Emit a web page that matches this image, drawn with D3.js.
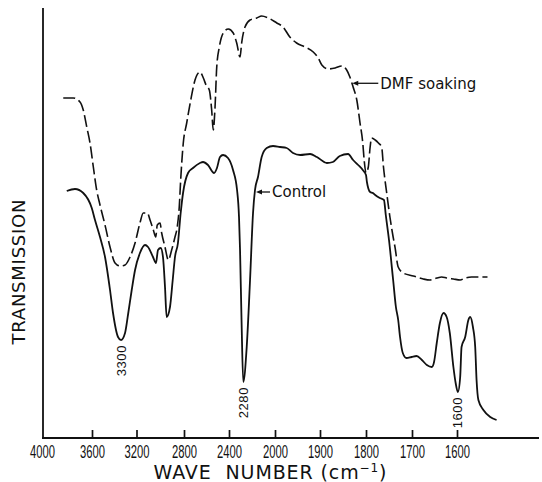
<!DOCTYPE html>
<html>
<head>
<meta charset="utf-8">
<script src="https://cdn.jsdelivr.net/npm/d3@7"></script>
<style>
  body { margin: 0; background: #fff; }
  svg text { fill: #111; }
</style>
</head>
<body>
<div id="chart"></div>
<script>
const width = 542, height = 482;
const ink = "#111";

// wave number ticks (scale is stretched below 2000 cm-1)
const waveTicks = [4000, 3600, 3200, 2800, 2400, 2000, 1900, 1800, 1700, 1600];

// control film
const controlWn = [3802, 3736, 3670, 3602, 3573, 3528, 3483, 3438, 3411, 3366, 3339, 3303, 3274, 3243, 3213,
  3171, 3128, 3103, 3061, 3036, 3019, 2996, 2977, 2960, 2946, 2918, 2895, 2876, 2851, 2828, 2808,
  2764, 2720, 2658, 2631, 2587, 2533, 2507, 2480, 2453, 2409, 2365, 2330, 2313, 2304, 2291, 2276,
  2246, 2217, 2191, 2174, 2148, 2116, 2072, 2017, 1989, 1974, 1960, 1944, 1922, 1907, 1885, 1872,
  1857, 1839, 1828, 1817, 1807, 1800, 1798, 1791, 1785, 1780, 1770, 1761, 1757, 1750, 1741, 1735,
  1730, 1726, 1720, 1712, 1701, 1690, 1678, 1667, 1656, 1651, 1645, 1638, 1630, 1623, 1616, 1608,
  1603, 1598, 1593, 1590, 1582, 1575, 1571, 1565, 1560, 1557, 1553, 1542, 1527, 1513];
const controlT = [24.9, 25.1, 24.7, 23.2, 22.0, 20.3, 18.3, 15.0, 12.7, 10.3, 10.0, 10.7, 12.7, 15.0, 17.0,
  18.7, 19.5, 19.3, 18.3, 17.7, 19.0, 19.2, 18.3, 15.3, 12.3, 13.3, 16.0, 18.3, 19.7, 22.7, 24.7,
  26.7, 27.2, 27.7, 27.8, 27.5, 26.7, 27.2, 28.3, 28.5, 28.2, 27.0, 25.0, 22.3, 19.0, 12.0, 5.8,
  9.3, 16.0, 22.7, 25.0, 26.3, 28.3, 29.2, 29.4, 29.3, 29.2, 28.7, 28.5, 28.6, 28.3, 27.7, 27.8,
  28.4, 28.6, 28.0, 27.5, 27.0, 26.5, 25.8, 24.8, 24.7, 24.5, 24.2, 24.0, 22.5, 20.0, 16.0, 13.3,
  12.0, 10.3, 8.7, 8.2, 8.3, 8.4, 8.0, 7.5, 7.3, 7.8, 9.7, 11.7, 12.7, 12.3, 10.7, 7.3,
  5.7, 4.8, 6.3, 9.3, 10.3, 12.0, 12.3, 11.3, 9.3, 6.0, 4.0, 3.0, 2.3, 2.0];

// film after DMF soaking
const dmfWn = [3830, 3750, 3696, 3670, 3642, 3616, 3588, 3558, 3528, 3483, 3438, 3393, 3348, 3303, 3258,
  3213, 3171, 3143, 3109, 3086, 3058, 3038, 3025, 3002, 2988, 2960, 2932, 2904, 2876, 2857, 2840,
  2828, 2806, 2776, 2740, 2702, 2658, 2628, 2604, 2575, 2554, 2540, 2524, 2509, 2486, 2451, 2406,
  2363, 2333, 2304, 2290, 2261, 2217, 2159, 2116, 2058, 1996, 1982, 1967, 1952, 1933, 1915, 1904,
  1896, 1882, 1867, 1853, 1842, 1835, 1828, 1820, 1813, 1807, 1804, 1800, 1795, 1791, 1788, 1780,
  1773, 1766, 1762, 1755, 1748, 1741, 1737, 1730, 1719, 1697, 1675, 1660, 1645, 1634, 1623, 1608,
  1593, 1582, 1568, 1549, 1533];
const dmfT = [34.2, 34.2, 33.8, 33.0, 31.3, 29.7, 27.3, 25.0, 23.5, 21.5, 19.3, 17.7, 17.4, 17.5, 18.3,
  19.7, 21.7, 22.7, 22.7, 22.0, 21.0, 20.3, 21.5, 21.7, 20.7, 19.3, 18.0, 19.0, 20.3, 21.3, 23.3,
  26.0, 29.7, 31.7, 34.0, 36.0, 36.8, 36.2, 35.5, 35.0, 33.0, 31.0, 33.3, 37.3, 39.3, 40.7, 41.1,
  40.7, 39.7, 38.3, 39.7, 41.3, 42.0, 42.2, 42.4, 42.2, 41.7, 41.3, 40.3, 39.7, 39.3, 38.8, 38.2,
  37.5, 37.1, 37.2, 37.4, 37.0, 36.3, 35.3, 34.0, 31.7, 29.7, 28.0, 26.7, 27.3, 29.3, 30.2, 30.0,
  29.7, 29.3, 27.3, 24.7, 22.3, 20.3, 19.3, 17.3, 16.7, 16.4, 16.1, 16.0, 16.2, 16.3, 16.2, 16.1,
  16.0, 16.2, 16.3, 16.3, 16.3];

const peakLabels = [3300, 2280, 1600];
const curveNames = ["Control", "DMF soaking"];
const arrowWn = [2174, 1832];

// scales
const x = d3.scaleLinear()
  .domain([4000, 3600, 3200, 2800, 2400, 2000, 1900, 1800, 1700, 1600, 1400])
  .range([42, 92, 136.5, 184, 229, 275, 320, 366, 412, 457, 548]);
const y = d3.scaleLinear().domain([0, 44]).range([440, 0]);
const axisY = 438;

const svg = d3.select("#chart").append("svg")
  .attr("width", width).attr("height", height)
  .style("font-family", "'DejaVu Sans', 'Liberation Sans', sans-serif");

// frame
svg.append("line").attr("x1", 42).attr("x2", 539).attr("y1", axisY).attr("y2", axisY)
  .attr("stroke", ink).attr("stroke-width", 1.8);
svg.append("line").attr("x1", 43).attr("x2", 43).attr("y1", 8).attr("y2", axisY)
  .attr("stroke", ink).attr("stroke-width", 1.8);

const gx = svg.append("g").attr("transform", `translate(0,${axisY})`)
  .call(d3.axisBottom(x).tickValues(waveTicks).tickSize(8).tickFormat(d => d));
gx.select(".domain").remove();
gx.selectAll(".tick line").attr("y1", 0).attr("y2", -8)
  .attr("stroke", ink).attr("stroke-width", 1.7)
  .filter(d => d === 4000).remove();
gx.selectAll(".tick text")
  .attr("y", 20).attr("dy", 0)
  .attr("font-family", "'Liberation Sans Narrow', 'Liberation Sans', sans-serif")
  .attr("font-size", 18.5)
  .attr("textLength", 25).attr("lengthAdjust", "spacingAndGlyphs")
  .style("fill", ink);

// axis titles
const xt = svg.append("text").attr("x", 270).attr("y", 479)
  .attr("text-anchor", "middle").attr("font-size", 19)
  .style("white-space", "pre")
  .attr("textLength", 233).attr("lengthAdjust", "spacing");
xt.append("tspan").text("WAVE  NUMBER (cm");
xt.append("tspan").attr("font-size", 12).attr("dy", -7).text("\u22121");
xt.append("tspan").attr("dy", 7).text(")");

svg.append("text")
  .attr("transform", "translate(25,272) rotate(-90)")
  .attr("text-anchor", "middle").attr("font-size", 18)
  .attr("textLength", 145).attr("lengthAdjust", "spacing")
  .text("TRANSMISSION");

// spectra
const toPts = (wn, t) => wn.map((w, i) => [w, t[i]]);
const line = d3.line().x(d => x(d[0])).y(d => y(d[1])).curve(d3.curveMonotoneX);

svg.append("path").datum(toPts(dmfWn, dmfT))
  .attr("d", line).attr("fill", "none")
  .attr("stroke", ink).attr("stroke-width", 1.6)
  .attr("stroke-dasharray", "12,4");

svg.append("path").datum(toPts(controlWn, controlT))
  .attr("d", line).attr("fill", "none")
  .attr("stroke", ink).attr("stroke-width", 1.8);

// band labels under control minima
peakLabels.forEach(p => {
  let best = null;
  controlWn.forEach((w, i) => {
    if (Math.abs(w - p) < 40 && (best === null || controlT[i] < controlT[best])) best = i;
  });
  const px = x(controlWn[best]), py = y(controlT[best]) + 5;
  svg.append("text")
    .attr("transform", `translate(${px},${py}) rotate(-90)`)
    .attr("text-anchor", "end").attr("dy", "0.35em")
    .attr("font-family", "'Liberation Sans', sans-serif")
    .attr("font-size", 13).attr("letter-spacing", 0.6)
    .text(p);
});

// curve name arrows
const interp = (wn, t, w) => {
  for (let i = 1; i < wn.length; i++) {
    if (wn[i] <= w) {
      const f = (wn[i - 1] - w) / (wn[i - 1] - wn[i]);
      return t[i - 1] + f * (t[i] - t[i - 1]);
    }
  }
  return t[t.length - 1];
};
const series = [[controlWn, controlT], [dmfWn, dmfT]];
const arrowLen = [14, 26];
curveNames.forEach((name, k) => {
  const tx = x(arrowWn[k]) + 1;
  const ty = y(interp(series[k][0], series[k][1], arrowWn[k])) + 2;
  svg.append("path")
    .attr("d", `M${tx},${ty}L${tx + 6},${ty - 2.5}L${tx + 6},${ty + 2.5}Z`)
    .attr("fill", ink);
  svg.append("line")
    .attr("x1", tx + 5).attr("x2", tx + arrowLen[k])
    .attr("y1", ty).attr("y2", ty)
    .attr("stroke", ink).attr("stroke-width", 1.3);
  svg.append("text")
    .attr("x", tx + arrowLen[k] + 2).attr("y", ty).attr("dy", "0.36em")
    .attr("font-size", 15)
    .text(name);
});
</script>
</body>
</html>
